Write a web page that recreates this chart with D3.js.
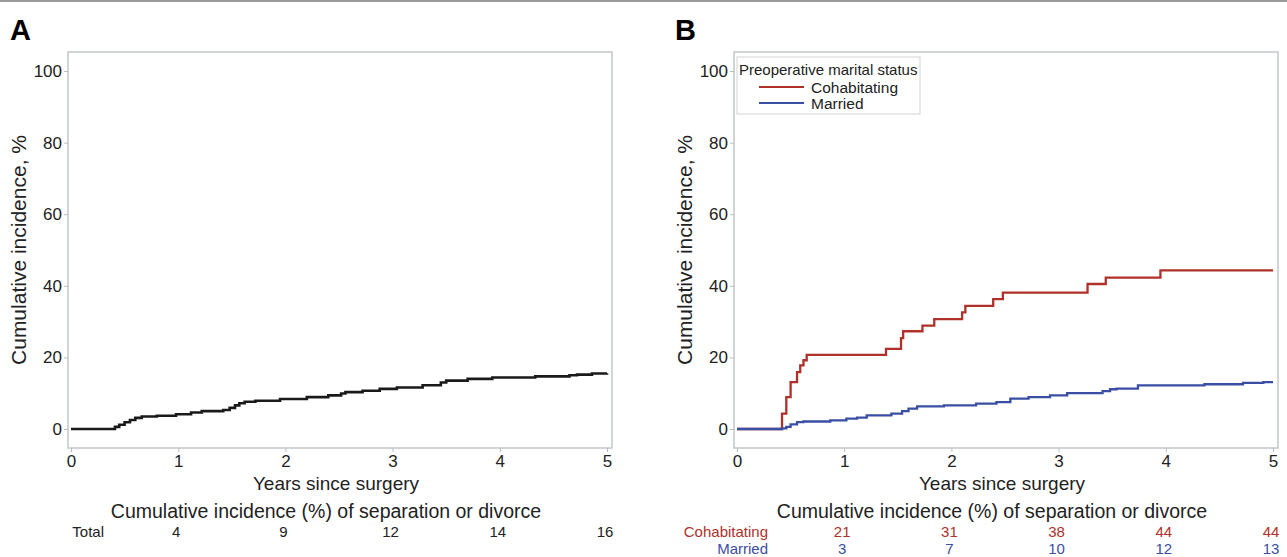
<!DOCTYPE html>
<html>
<head>
<meta charset="utf-8">
<script src="https://cdn.jsdelivr.net/npm/d3@7"></script>
<style>
  body { margin: 0; background: #fff; }
  svg { display: block; font-family: "Liberation Sans", Arial, sans-serif; }
  .axis text { font-size: 17px; fill: #222; }
  .axis line { stroke: #b8bcc0; }
</style>
</head>
<body>
<svg width="1287" height="557"></svg>
<script>
// years since surgery, cumulative incidence (%)
const totalCurve = [
  [0, 0], [0.41, 0.6], [0.45, 1.2], [0.5, 1.9], [0.55, 2.5], [0.6, 3.1], [0.66, 3.5],
  [0.8, 3.7], [0.98, 4.1], [1.12, 4.6], [1.22, 5.0], [1.42, 5.3], [1.48, 5.9],
  [1.53, 6.6], [1.57, 7.2], [1.62, 7.6], [1.72, 7.9], [1.95, 8.4], [2.2, 8.9],
  [2.4, 9.4], [2.52, 9.9], [2.56, 10.3], [2.72, 10.7], [2.88, 11.2], [3.04, 11.6],
  [3.28, 12.2], [3.45, 13.0], [3.5, 13.5], [3.7, 14.0], [3.93, 14.4], [4.33, 14.7],
  [4.65, 15.0], [4.72, 15.2], [4.86, 15.5], [5.0, 15.6]
];
const cohabCurve = [
  [0, 0], [0.42, 4.3], [0.46, 8.9], [0.5, 13.1], [0.56, 15.9], [0.59, 17.8],
  [0.62, 19.2], [0.65, 20.7], [1.39, 22.4], [1.53, 25.4], [1.55, 27.3], [1.73, 28.9],
  [1.84, 30.7], [2.1, 32.6], [2.13, 34.4], [2.39, 36.3], [2.48, 38.1], [3.27, 40.5],
  [3.44, 42.3], [3.95, 44.3], [5.0, 44.3]
];
const marriedCurve = [
  [0, 0], [0.42, 0.2], [0.46, 0.6], [0.5, 1.3], [0.56, 1.9], [0.62, 2.1], [0.87, 2.4],
  [1.02, 2.9], [1.12, 3.2], [1.21, 3.8], [1.44, 4.3], [1.54, 5.0], [1.6, 5.7],
  [1.68, 6.3], [1.93, 6.6], [2.23, 7.1], [2.42, 7.5], [2.55, 8.5], [2.72, 8.9],
  [2.92, 9.4], [3.08, 10.0], [3.41, 10.6], [3.48, 11.1], [3.54, 11.3], [3.74, 12.2],
  [4.36, 12.5], [4.72, 12.9], [4.91, 13.1], [5.0, 13.1]
];

const tableYears = [1, 2, 3, 4, 5];
const totalTable = [4, 9, 12, 14, 16];
const cohabTable = [21, 31, 38, 44, 44];
const marriedTable = [3, 7, 10, 12, 13];

const xTicks = [0, 1, 2, 3, 4, 5];
const yTicks = [0, 20, 40, 60, 80, 100];

const RED = "#b0302a";
const BLUE = "#3a4ea3";

const svg = d3.select("svg");

// thin rule along the top edge
svg.append("line")
  .attr("x1", 0).attr("x2", 1287).attr("y1", 1).attr("y2", 1)
  .attr("stroke", "#9a9a9a").attr("stroke-width", 2);

function drawPanel(opts) {
  const x = d3.scaleLinear().domain([0, 5]).range(opts.xRange);
  const y = d3.scaleLinear().domain([0, 100]).range([429, 71]);
  const left = opts.xRange[0] - 3, right = opts.xRange[1] + 5;
  const top = 52, bottom = 448;

  svg.append("text")
    .attr("x", opts.letterX).attr("y", 40)
    .attr("font-size", 29).attr("font-weight", "bold")
    .text(opts.letter);

  svg.append("rect")
    .attr("x", left).attr("y", top)
    .attr("width", right - left).attr("height", bottom - top)
    .attr("fill", "none").attr("stroke", "#c3c7cb").attr("stroke-width", 1.5);

  const ya = svg.append("g").attr("class", "axis")
    .attr("transform", `translate(${left},0)`)
    .call(d3.axisLeft(y).tickValues(yTicks).tickSize(4).tickPadding(2));
  ya.select(".domain").remove();

  const xa = svg.append("g").attr("class", "axis")
    .attr("transform", `translate(0,${bottom})`)
    .call(d3.axisBottom(x).tickValues(xTicks).tickFormat(d3.format("d"))
      .tickSize(4).tickPadding(3));
  xa.select(".domain").remove();
  xa.selectAll("text").attr("font-size", 19);

  svg.append("text")
    .attr("transform", `translate(${left - 42},${(y(0) + y(100)) / 2}) rotate(-90)`)
    .attr("text-anchor", "middle").attr("font-size", 21).attr("fill", "#222")
    .text("Cumulative incidence, %");

  svg.append("text")
    .attr("x", (x(0) + x(5)) / 2 - 3).attr("y", 490)
    .attr("text-anchor", "middle").attr("font-size", 19).attr("fill", "#222")
    .text("Years since surgery");

  svg.append("text")
    .attr("x", (x(0) + x(5)) / 2 - 13).attr("y", 518)
    .attr("text-anchor", "middle").attr("font-size", 19.5).attr("fill", "#222")
    .text("Cumulative incidence (%) of separation or divorce");

  const line = d3.line()
    .x(d => x(d[0])).y(d => y(d[1]))
    .curve(d3.curveStepAfter);

  opts.series.forEach((s, i) => {
    svg.append("path")
      .datum(s.data)
      .attr("fill", "none")
      .attr("stroke", s.color)
      .attr("stroke-width", s.width)
      .attr("d", line);

    const rowY = 537 + i * 17;
    svg.append("text")
      .attr("x", opts.labelRight).attr("y", rowY)
      .attr("text-anchor", "end").attr("font-size", 15).attr("fill", s.textColor)
      .text(s.name);
    svg.selectAll(null)
      .data(s.table)
      .enter().append("text")
      .attr("x", (d, j) => x(tableYears[j]) - 2).attr("y", rowY)
      .attr("text-anchor", "middle").attr("font-size", 15).attr("fill", s.textColor)
      .text(d => d);
  });

  if (opts.legend) {
    const lg = svg.append("g").attr("transform", `translate(${left + 3},57)`);
    lg.append("rect")
      .attr("width", 183).attr("height", 57)
      .attr("fill", "#fff").attr("stroke", "#d0d3d6");
    lg.append("text").attr("x", 2).attr("y", 18)
      .attr("font-size", 15).attr("fill", "#222")
      .text("Preoperative marital status");
    opts.series.forEach((s, i) => {
      const ly = 30 + i * 16;
      lg.append("line")
        .attr("x1", 22).attr("x2", 67).attr("y1", ly).attr("y2", ly)
        .attr("stroke", s.color).attr("stroke-width", 2);
      lg.append("text").attr("x", 74).attr("y", ly + 6)
        .attr("font-size", 15.5).attr("fill", "#222")
        .text(s.name);
    });
  }
}

drawPanel({
  letter: "A", letterX: 10, xRange: [71, 607], labelRight: 104,
  series: [
    { name: "Total", data: totalCurve, table: totalTable, color: "#1a1a1a", textColor: "#222", width: 2.6 }
  ]
});

drawPanel({
  letter: "B", letterX: 675, xRange: [737, 1273], labelRight: 768, legend: true,
  series: [
    { name: "Cohabitating", data: cohabCurve, table: cohabTable, color: RED, textColor: RED, width: 2.3 },
    { name: "Married", data: marriedCurve, table: marriedTable, color: BLUE, textColor: BLUE, width: 2.3 }
  ]
});
</script>
</body>
</html>
